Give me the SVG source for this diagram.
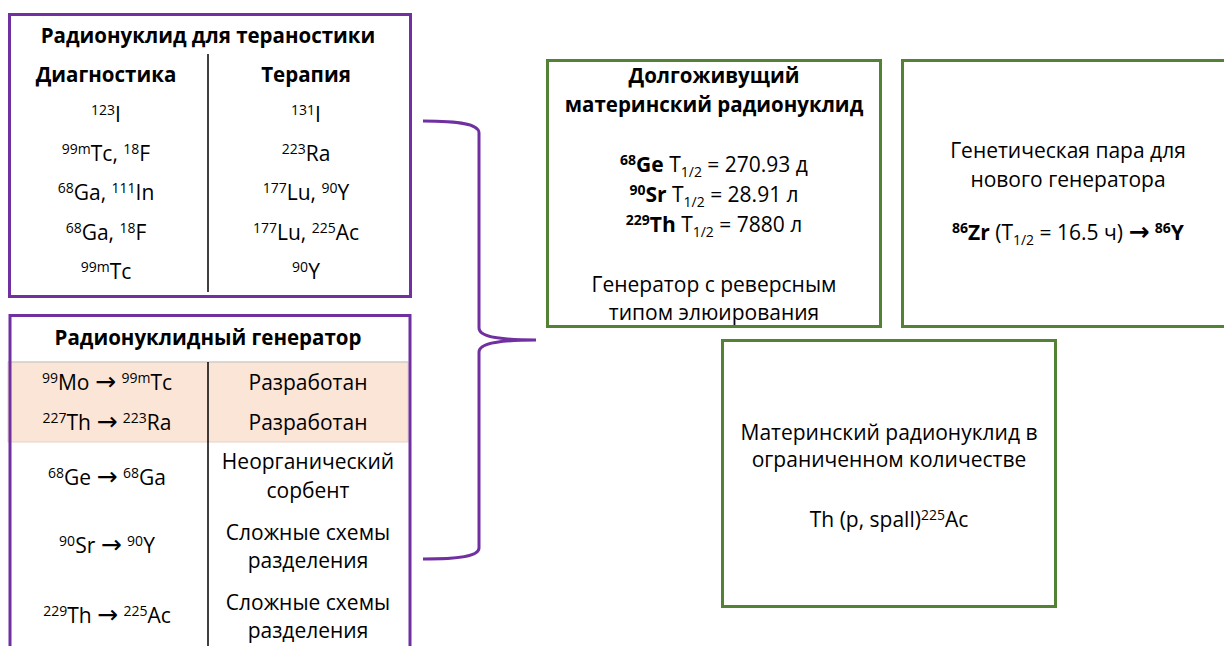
<svg xmlns="http://www.w3.org/2000/svg" width="1224" height="646" viewBox="0 0 1224 646">
<style>
text{font-family:"Open Sans","Noto Sans","DejaVu Sans",sans-serif;font-size:21px;fill:#000;text-anchor:middle}
.b{font-weight:bold}
.t{font-size:20.5px}
.sup{font-size:14px}
.arr{font-family:"DejaVu Sans",sans-serif;font-size:25px}
.purple{fill:none;stroke:#7030A0;stroke-width:3}
.green{fill:#fff;stroke:#548235;stroke-width:3}
.div{stroke:#000;stroke-width:1.5}
</style>
<rect width="1224" height="646" fill="#fff"/>
<g id="theranostics">
<rect class="purple" x="9.5" y="14.5" width="401" height="282" fill="#fff"/>
<line class="div" x1="208" y1="54" x2="208" y2="292"/>
<text class="b t" x="208" y="43">Радионуклид для тераностики</text>
<text class="b t" x="106" y="82">Диагностика</text>
<text class="b t" x="306" y="82">Терапия</text>
<text x="106" y="122"><tspan class="sup" dy="-7">123</tspan><tspan dy="7">I</tspan></text>
<text x="106" y="161"><tspan class="sup" dy="-7">99m</tspan><tspan dy="7">Tc, </tspan><tspan class="sup" dy="-7">18</tspan><tspan dy="7">F</tspan></text>
<text x="106" y="200"><tspan class="sup" dy="-7">68</tspan><tspan dy="7">Ga, </tspan><tspan class="sup" dy="-7">111</tspan><tspan dy="7">In</tspan></text>
<text x="106" y="240"><tspan class="sup" dy="-7">68</tspan><tspan dy="7">Ga, </tspan><tspan class="sup" dy="-7">18</tspan><tspan dy="7">F</tspan></text>
<text x="106" y="279"><tspan class="sup" dy="-7">99m</tspan><tspan dy="7">Tc</tspan></text>
<text x="306" y="122"><tspan class="sup" dy="-7">131</tspan><tspan dy="7">I</tspan></text>
<text x="306" y="161"><tspan class="sup" dy="-7">223</tspan><tspan dy="7">Ra</tspan></text>
<text x="306" y="200"><tspan class="sup" dy="-7">177</tspan><tspan dy="7">Lu, </tspan><tspan class="sup" dy="-7">90</tspan><tspan dy="7">Y</tspan></text>
<text x="306" y="240"><tspan class="sup" dy="-7">177</tspan><tspan dy="7">Lu, </tspan><tspan class="sup" dy="-7">225</tspan><tspan dy="7">Ac</tspan></text>
<text x="306" y="279"><tspan class="sup" dy="-7">90</tspan><tspan dy="7">Y</tspan></text>
</g>
<g id="generator">
<rect x="8" y="362" width="400" height="80" fill="#FBE5D6" stroke="#E3D2C6" stroke-width="1"/>
<line x1="8" y1="362" x2="408" y2="362" stroke="#C9C9C9" stroke-width="1"/>
<path class="purple" d="M10,660 V315.5 H410 V660"/>
<line class="div" x1="208" y1="362" x2="208" y2="646"/>
<text class="b t" x="208" y="345">Радионуклидный генератор</text>
<text x="107" y="390"><tspan class="sup" dy="-7">99</tspan><tspan dy="7">Mo </tspan><tspan class="arr">→</tspan><tspan> </tspan><tspan class="sup" dy="-7">99m</tspan><tspan dy="7">Tc</tspan></text>
<text x="107" y="430"><tspan class="sup" dy="-7">227</tspan><tspan dy="7">Th </tspan><tspan class="arr">→</tspan><tspan> </tspan><tspan class="sup" dy="-7">223</tspan><tspan dy="7">Ra</tspan></text>
<text x="107" y="485"><tspan class="sup" dy="-7">68</tspan><tspan dy="7">Ge </tspan><tspan class="arr">→</tspan><tspan> </tspan><tspan class="sup" dy="-7">68</tspan><tspan dy="7">Ga</tspan></text>
<text x="107" y="553"><tspan class="sup" dy="-7">90</tspan><tspan dy="7">Sr </tspan><tspan class="arr">→</tspan><tspan> </tspan><tspan class="sup" dy="-7">90</tspan><tspan dy="7">Y</tspan></text>
<text x="107" y="623"><tspan class="sup" dy="-7">229</tspan><tspan dy="7">Th </tspan><tspan class="arr">→</tspan><tspan> </tspan><tspan class="sup" dy="-7">225</tspan><tspan dy="7">Ac</tspan></text>
<text x="308" y="390">Разработан</text>
<text x="308" y="430">Разработан</text>
<text x="308" y="469">Неорганический</text>
<text x="308" y="498">сорбент</text>
<text x="308" y="540">Сложные схемы</text>
<text x="308" y="568">разделения</text>
<text x="308" y="610">Сложные схемы</text>
<text x="308" y="638">разделения</text>
</g>
<g id="connectors">
<path class="purple" d="M423,121 C460,121 479,124 479,133 L479,328 C479,337 500,340 536,340 C500,340 479,343 479,352 L479,548 C479,556 460,559 423,559"/>
</g>
<g id="long-lived">
<rect class="green" x="547.5" y="60.5" width="333" height="266"/>
<text class="b t" x="714" y="83">Долгоживущий</text>
<text class="b t" x="714" y="112">материнский радионуклид</text>
<text x="714" y="172"><tspan class="sup b" dy="-7">68</tspan><tspan class="b" dy="7">Ge</tspan><tspan> T</tspan><tspan class="sup" dy="5">1/2</tspan><tspan dy="-5"> = 270.93 д</tspan></text>
<text x="714" y="202"><tspan class="sup b" dy="-7">90</tspan><tspan class="b" dy="7">Sr</tspan><tspan> T</tspan><tspan class="sup" dy="5">1/2</tspan><tspan dy="-5"> = 28.91 л</tspan></text>
<text x="714" y="232"><tspan class="sup b" dy="-7">229</tspan><tspan class="b" dy="7">Th</tspan><tspan> T</tspan><tspan class="sup" dy="5">1/2</tspan><tspan dy="-5"> = 7880 л</tspan></text>
<text x="714" y="292">Генератор с реверсным</text>
<text x="714" y="320">типом элюирования</text>
</g>
<g id="genetic-pair">
<rect class="green" x="902.5" y="60.5" width="332" height="266"/>
<text x="1068" y="158">Генетическая пара для</text>
<text x="1068" y="187">нового генератора</text>
<text x="1068" y="240"><tspan class="sup b" dy="-7">86</tspan><tspan class="b" dy="7">Zr</tspan><tspan> (T</tspan><tspan class="sup" dy="5">1/2</tspan><tspan dy="-5"> = 16.5 ч) </tspan><tspan class="arr b" font-size="22">→</tspan><tspan> </tspan><tspan class="sup b" dy="-7">86</tspan><tspan class="b" dy="7">Y</tspan></text>
</g>
<g id="limited-parent">
<rect class="green" x="722.5" y="340.5" width="333" height="266"/>
<text x="889" y="440">Материнский радионуклид в</text>
<text x="889" y="467">ограниченном количестве</text>
<text x="889" y="527">Th (p, spall)<tspan class="sup" dy="-7">225</tspan><tspan dy="7">Ac</tspan></text>
</g>
</svg>
